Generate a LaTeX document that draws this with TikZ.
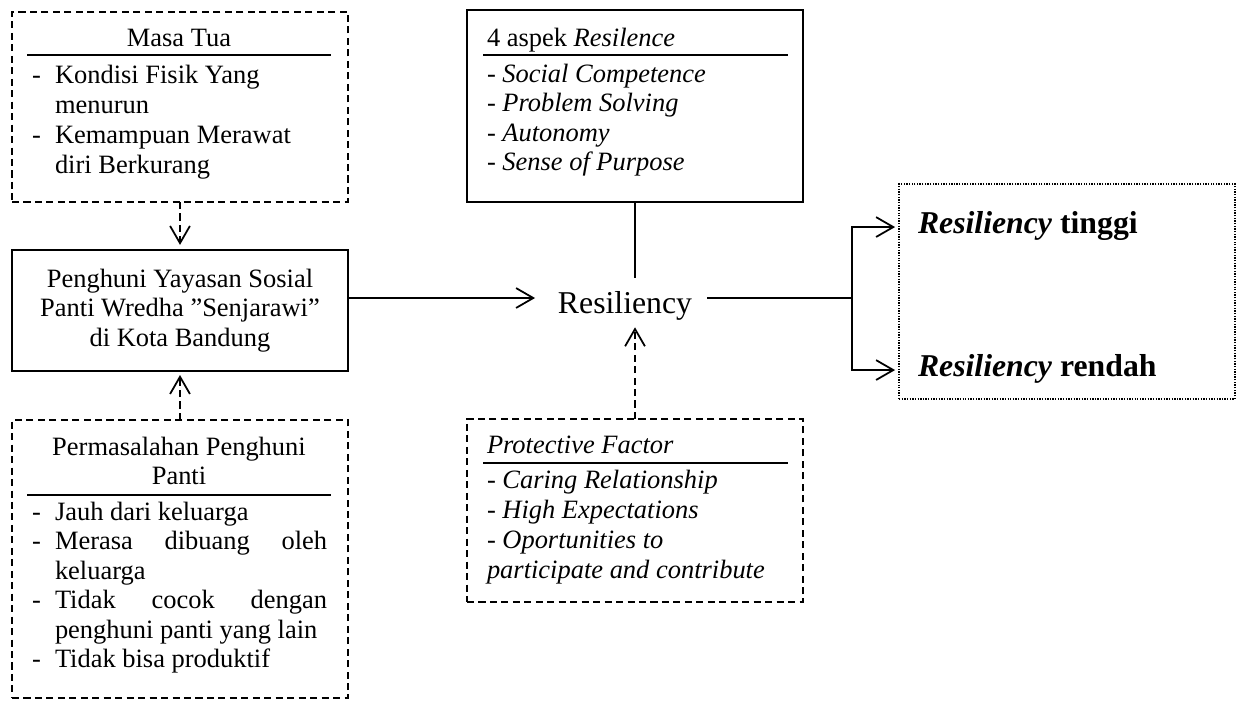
\documentclass[tikz,border=0pt]{standalone}
\usepackage{fontspec}
\setmainfont{Liberation Serif}
\usetikzlibrary{arrows.meta,fit,calc}
\begin{document}
\begin{tikzpicture}[x=0.4535pt,y=-0.4535pt,
  every node/.style={font=\fontsize{12}{13.4}\selectfont, inner sep=0pt, outer sep=0pt},
  txt/.style={anchor=base west},
  ctr/.style={anchor=base},
  dashbox/.style={draw, line width=0.8pt, dash pattern=on 3.2pt off 2pt, inner sep=0pt},
  solidbox/.style={draw, line width=0.8pt, inner sep=0pt},
  dotbox/.style={draw, line width=0.6pt, dash pattern=on 0.6pt off 0.6pt, inner sep=0pt},
  rulel/.style={line width=1.1pt},
  conn/.style={line width=0.8pt},
  arr/.style={conn, -{Straight Barb[length=7.8pt,width=9pt]}},
  darr/.style={arr, dash pattern=on 3.2pt off 2pt},
  big/.style={font=\fontsize{14.4}{17}\selectfont}
]
\useasboundingbox (0,0) rectangle (1243,700);

% Box 1: Masa Tua
\node[dashbox, fit={(12,12) (348,202)}] (masa) {};
\node[ctr] (masaH) at (179,46) {Masa Tua};
\draw[rulel] (27,55) -- (331,55);
\node[txt] (m1d) at (32,83) {-};
\node[txt] (m1) at (55,83) {Kondisi Fisik Yang};
\node[txt] (m1b) at (55,113) {menurun};
\node[txt] (m2d) at (32,143) {-};
\node[txt] (m2) at (55,143) {Kemampuan Merawat};
\node[txt] (m2b) at (55,173) {diri Berkurang};

% Box 2: Penghuni
\node[solidbox, minimum width=152.4pt, minimum height=54.9pt, align=center] (peng) at (180,310.5)
  {Penghuni Yayasan Sosial\\Panti Wredha ”Senjarawi”\\di Kota Bandung};

% Box 3: Permasalahan
\node[dashbox, fit={(12,420) (348,698)}] (perm) {};
\node[ctr] (pH1) at (179,455) {Permasalahan Penghuni};
\node[ctr] (pH2) at (179,484) {Panti};
\draw[rulel] (27,495) -- (331,495);
\node[txt] (p1d) at (32,520) {-};
\node[txt] (p1) at (55,520) {Jauh dari keluarga};
\node[txt] (p2d) at (32,549.5) {-};
\node[txt] (p2) at (55,549.5) {\hbox to 123.4pt{Merasa\hfill dibuang\hfill oleh}};
\node[txt] (p2b) at (55,579) {keluarga};
\node[txt] (p3d) at (32,608.5) {-};
\node[txt] (p3) at (55,608.5) {\hbox to 123.4pt{Tidak\hfill cocok\hfill dengan}};
\node[txt] (p3b) at (55,638) {penghuni panti yang lain};
\node[txt] (p4d) at (32,667.5) {-};
\node[txt] (p4) at (55,667.5) {Tidak bisa produktif};

% Box 4: aspek
\node[solidbox, fit={(467,10) (803,202)}] (aspek) {};
\node[txt] (aH) at (487,46) {4 aspek \textit{Resilence}};
\draw[rulel] (483,55) -- (788,55);
\node[txt] (a1) at (487,82) {- \textit{Social Competence}};
\node[txt] (a2) at (487,111.5) {- \textit{Problem Solving}};
\node[txt] (a3) at (487,141) {- \textit{Autonomy}};
\node[txt] (a4) at (487,170.5) {- \textit{Sense of Purpose}};

% Box 6: Protective
\node[dashbox, fit={(467,419) (803,602)}] (prot) {};
\node[txt] (prH) at (487,453) {\textit{Protective Factor}};
\draw[rulel] (483,463) -- (788,463);
\node[txt] (pr1) at (487,488) {- \textit{Caring Relationship}};
\node[txt] (pr2) at (487,518) {- \textit{High Expectations}};
\node[txt] (pr3) at (487,548) {- \textit{Oportunities to}};
\node[txt] (pr4) at (487,578) {\textit{participate and contribute}};

% Resiliency
\node[big, anchor=base, text height=16pt, text depth=2.4pt] (res) at (625,313) {Resiliency};

% Outcomes
\node[dotbox, fit={(899,184) (1235,399)}] (outc) {};
\node[big, anchor=base west, text height=8pt, text depth=2.6pt] (tinggi) at (918,233) {\textbf{\textit{Resiliency} tinggi}};
\node[big, anchor=base west, text height=8pt, text depth=2.6pt] (rendah) at (918,376) {\textbf{\textit{Resiliency} rendah}};

% Connectors
\draw[darr, shorten >=2.3pt] (masa.south) -- (peng.north);
\draw[darr, shorten >=1.8pt] (perm.north) -- (peng.south);
\draw[arr] (peng.east |- res.west) -- ([xshift=-10.4pt]res.west);
\draw[conn] (aspek.south) -- (aspek.south |- res.north);
\draw[darr] (prot.north) -- ($(prot.north |- res.south)+(0,9)$);
\coordinate (br) at (852,298);
\draw[conn] ($(res.east)+(15,0)$) -- (br);
\draw[arr] (br) |- ([xshift=-10.4pt]tinggi.west);
\draw[arr] (br) |- ([xshift=-10.4pt]rendah.west);
\end{tikzpicture}
\end{document}
